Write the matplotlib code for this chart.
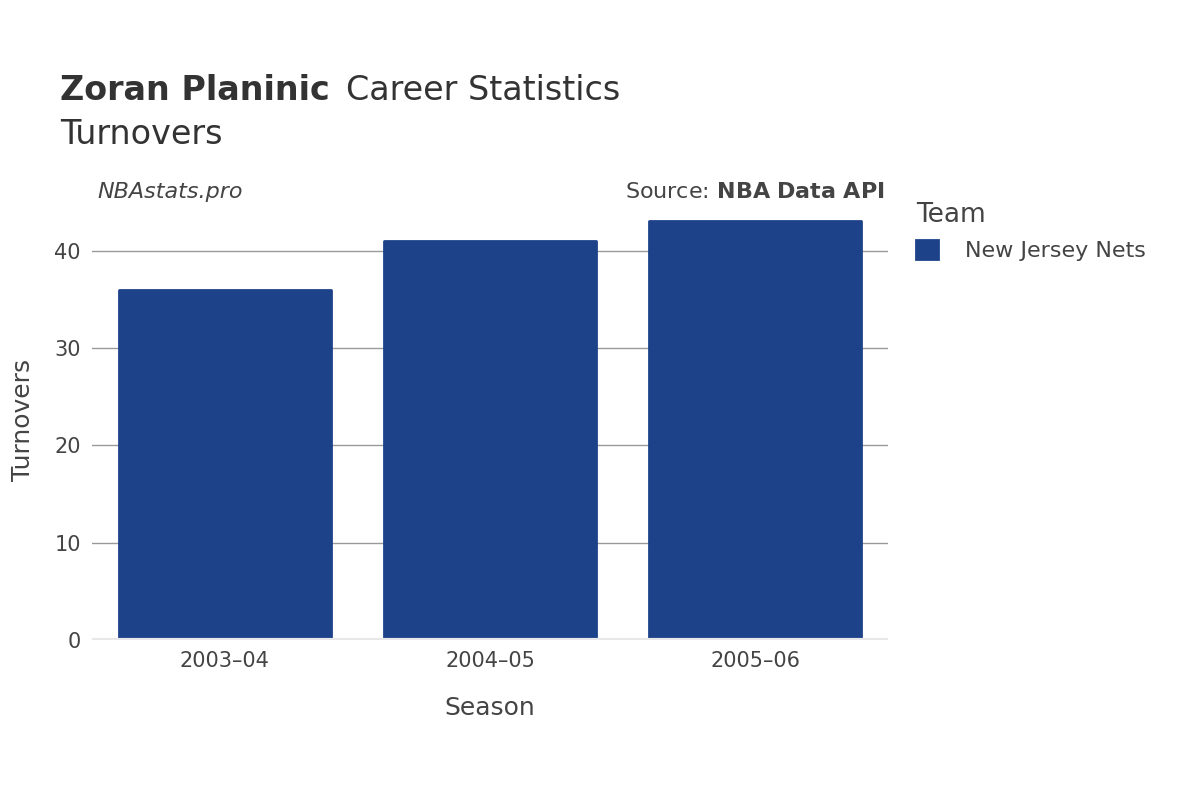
import matplotlib.pyplot as plt

seasons = ['2003–04', '2004–05', '2005–06']
turnovers = [36, 41, 43]
team = 'New Jersey Nets'
yticks = [0, 10, 20, 30, 40]

fig = plt.figure(figsize=(12, 8), dpi=100)
ax = fig.add_axes([0.0767, 0.2, 0.6633, 0.55])

x = range(len(seasons))
ax.bar(x, turnovers, width=0.8, color='#1d428a', edgecolor='#1d428a',
       linewidth=2, joinstyle='round', label=team, zorder=3)

ax.set_xlim(-0.5, 2.5)
ax.set_ylim(0, 45.2)
ax.set_xticks(list(x))
ax.set_xticklabels(seasons)
ax.set_yticks(yticks)
ax.tick_params(length=0, labelsize=15, labelcolor='#444444', pad=8)
ax.grid(axis='y', color='#999999', linewidth=1, zorder=0)
ax.axhline(0, color='#e8e8ea', linewidth=3, zorder=4)
for s in ax.spines.values():
    s.set_visible(False)

ax.set_xlabel('Season', fontsize=18, color='#444444', labelpad=18)
ax.set_ylabel('Turnovers', fontsize=18, color='#444444', labelpad=14)

fig.text(0.05, 0.875, 'Zoran Planinic', fontsize=24, fontweight='bold', color='#333333')
fig.text(0.288, 0.875, 'Career Statistics', fontsize=24, color='#333333')
fig.text(0.05, 0.82, 'Turnovers', fontsize=24, color='#333333')
fig.text(0.081, 0.752, 'NBAstats.pro', fontsize=16, style='italic', color='#444444')
fig.text(0.737, 0.752, 'Source: $\\bf{NBA\\ Data\\ API}$', fontsize=16, color='#444444', ha='right')

leg = ax.legend(loc='upper left', bbox_to_anchor=(1.01, 1.04), frameon=False,
                title='Team', fontsize=16, title_fontsize=19, handlelength=1,
                handleheight=1, handletextpad=1.2, labelcolor='#444444')
leg.get_title().set_color('#444444')
leg._legend_box.align = 'left'

fig.savefig('out.png')
